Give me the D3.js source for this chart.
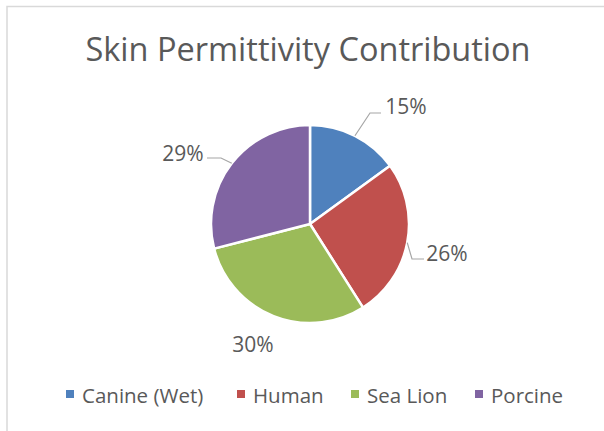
<!DOCTYPE html>
<html lang="en">
<head>
  <meta charset="UTF-8">
  <title>Skin Permittivity Contribution</title>
  <script src="https://d3js.org/d3.v7.min.js"></script>
  <style>
    body { margin: 0; background: #fff; }
    text { font-family: "Open Sans", "Noto Sans", sans-serif; fill: #595959; }
  </style>
</head>
<body>
  <svg id="svg" width="604" height="431"></svg>
  <script>
    var categories = ['Canine (Wet)', 'Human', 'Sea Lion', 'Porcine']
    var values = [15, 26, 30, 29]
    var colors = ['#4f81bd', '#c0504d', '#9bbb59', '#8064a2']

    var svg = d3.select('svg')
    // chart border
    svg.append('rect')
      .attr('x', 7).attr('y', 6.5)
      .attr('width', 620).attr('height', 450)
      .attr('fill', 'none').attr('stroke', '#d9d9d9').attr('stroke-width', 1.5)

    svg.append('text')
      .attr('x', 308).attr('y', 61)
      .attr('text-anchor', 'middle')
      .style('font-size', '32.5px')
      .text('Skin Permittivity Contribution')

    var cx = 310, cy = 224, r = 99
    var pie = d3.pie().sort(null)
    var arc = d3.arc().innerRadius(0).outerRadius(r)
    var arcs = pie(values)
    var g = svg.append('g').attr('transform', 'translate(' + cx + ',' + cy + ')')

    g.selectAll('path')
      .data(arcs)
      .enter()
      .append('path')
      .attr('d', arc)
      .attr('fill', (d, i) => colors[i])
      .attr('stroke', '#fff')
      .attr('stroke-width', 2.5)
      .attr('stroke-linejoin', 'round')

    var total = d3.sum(values)
    // label placement (offsets from the centre), leader line when label is outside
    var labelPos = [[96, -118], [137, 29], [-57, 120], [-127, -71]]
    var leaders = [
      [[60, -111], [71, -111]],
      [[102, 35], [114, 35]],
      null,
      [[-89, -66], [-103, -66]]
    ]
    arcs.forEach((d, i) => {
      var pct = Math.round(values[i] / total * 100) + '%'
      var p = labelPos[i]
      svg.append('text')
        .attr('x', cx + p[0]).attr('y', cy + p[1])
        .attr('text-anchor', 'middle')
        .attr('dominant-baseline', 'central')
        .style('font-size', '21px')
        .text(pct)
      if (leaders[i]) {
        var mid = (d.startAngle + d.endAngle) / 2
        var sx = Math.sin(mid) * r, sy = -Math.cos(mid) * r
        var pts = [[sx, sy]].concat(leaders[i])
        g.append('path')
          .attr('d', d3.line()(pts))
          .attr('fill', 'none')
          .attr('stroke', '#a6a6a6')
          .attr('stroke-width', 1.2)
      }
    })

    // legend
    var legendX = [66, 237, 351, 475]
    var lg = svg.append('g')
    categories.forEach((c, i) => {
      lg.append('rect')
        .attr('x', legendX[i]).attr('y', 390)
        .attr('width', 8).attr('height', 8)
        .attr('fill', colors[i])
      lg.append('text')
        .attr('x', legendX[i] + 16).attr('y', 395)
        .attr('dominant-baseline', 'central')
        .style('font-size', '20.5px')
        .text(c)
    })
  </script>
</body>
</html>
